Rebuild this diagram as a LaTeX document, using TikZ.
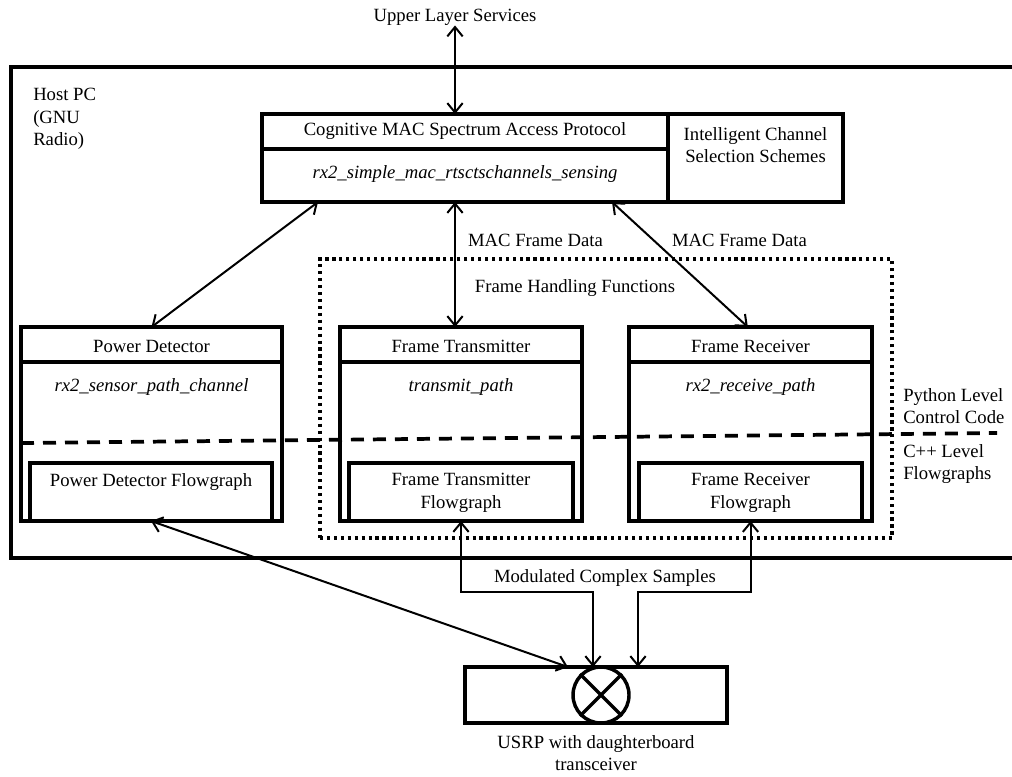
\documentclass[tikz,border=0pt]{standalone}
\usepackage{fontspec}
\setmainfont{Liberation Serif}
\usetikzlibrary{arrows.meta,fit,calc}
\begin{document}
\begin{tikzpicture}[x=0.75pt,y=-0.75pt,
  font=\fontsize{14}{16.8}\selectfont,
  >={Straight Barb[length=7pt,width=11.5pt]},
  box/.style={draw, rectangle, line width=2.6pt, inner sep=0pt, outer sep=0pt},
  divider/.style={line width=2.6pt},
  txt/.style={inner sep=0pt, align=center},
  conn/.style={<->, line width=1.5pt},
  levelline/.style={line width=2.8pt, dash pattern=on 9.75pt off 6.75pt},
  groupbox/.style={draw, rectangle, line width=2.4pt, inner sep=0pt, outer sep=0pt,
    dash pattern=on 2.4pt off 2.8pt}]
\useasboundingbox (0,0) rectangle (1012,776);

% host computer frame (runs past the right border)
\begin{scope}
  \clip (0,0) rectangle (1012,776);
  \node[box, line width=3pt, fit={(11,67) (1040,558)}] (host) {};
\end{scope}
\node[txt, anchor=north west, align=left] (hostlbl) at (33,88) {Host PC\\(GNU\\Radio)};

% upper layer
\node[txt] (uls) at (455,17) {Upper Layer Services};

% MAC protocol and channel selection
\node[box, fit={(262,114) (668,202)}] (mac) {};
\draw[divider] ([yshift=-26.25pt]mac.north west) -- ([yshift=-26.25pt]mac.north east);
\node[txt] (mact) at (465,131) {Cognitive MAC Spectrum Access Protocol};
\node[txt] (macs) at (465,174) {\itshape rx2\_simple\_mac\_rtsctschannels\_sensing};
\node[box, fit={(668,114) (843,202)}] (ics) {};
\node[txt] (icst) at (755.5,145) {Intelligent Channel\\Selection Schemes};

% frame handling group
\node[groupbox, fit={(320,259) (892,538)}] (fhf) {};
\node[txt] (fhft) at (575,288) {Frame Handling Functions};

% power detector
\node[box, fit={(21,327) (282,521)}] (pd) {};
\draw[divider] ([yshift=-26.25pt]pd.north west) -- ([yshift=-26.25pt]pd.north east);
\node[txt] (pdt) at (151.5,346) {Power Detector};
\node[txt] (pds) at (151.5,387) {\itshape rx2\_sensor\_path\_channel};
\node[box, fit={(30,463) (272,521)}] (pdfg) {};
\node[txt] (pdfgt) at (151,482) {Power Detector Flowgraph};

% frame transmitter
\node[box, fit={(340,327) (582,521)}] (tx) {};
\draw[divider] ([yshift=-26.25pt]tx.north west) -- ([yshift=-26.25pt]tx.north east);
\node[txt] (txt1) at (461,346) {Frame Transmitter};
\node[txt] (txs) at (461,387) {\itshape transmit\_path};
\node[box, fit={(349,463) (573,521)}] (txfg) {};
\node[txt] (txfgt) at (461,493) {Frame Transmitter\\Flowgraph};

% frame receiver
\node[box, fit={(629,327) (872,521)}] (rx) {};
\draw[divider] ([yshift=-26.25pt]rx.north west) -- ([yshift=-26.25pt]rx.north east);
\node[txt] (rxt) at (750.5,346) {Frame Receiver};
\node[txt] (rxs) at (750.5,387) {\itshape rx2\_receive\_path};
\node[box, fit={(639,463) (862,521)}] (rxfg) {};
\node[txt] (rxfgt) at (750.5,493) {Frame Receiver\\Flowgraph};

% boundary between Python and C++ levels
\coordinate (lvlend) at (997,433);
\draw[levelline] ([yshift=-87pt]pd.north west) -- (lvlend);
\node[txt, anchor=west, align=left] (pylvl) at (903,406) {Python Level\\Control Code};
\node[txt, anchor=west, align=left] (cpplvl) at (903,464) {C++ Level\\Flowgraphs};

% USRP hardware
\node[box, fit={(465,667) (727,723)}] (usrp) {};
\node[draw, circle, line width=2.6pt, minimum size=42pt, inner sep=0pt] (mix) at (601,695) {};
\draw[line width=2.6pt] (mix.north west) -- (mix.south east);
\draw[line width=2.6pt] (mix.north east) -- (mix.south west);
\node[txt] (usrpt) at (596,753) {USRP with daughterboard\\transceiver};

% connectors
\draw[conn] (uls.south) -- (uls.south |- mac.north);
\draw[conn] ([xshift=42pt]mac.south west) -- (pd.north);
\draw[conn] ([xshift=-7.5pt]mac.south) -- ([xshift=-4.5pt]tx.north);
\draw[conn] ([xshift=-42pt]mac.south east) -- ([xshift=-2pt]rx.north);
\node[txt] (mfd1) at (535.5,240) {MAC Frame Data};
\node[txt] (mfd2) at (739.5,240) {MAC Frame Data};

\draw[conn] (pdfg.south) -- ([xshift=77.25pt]usrp.north west);
\draw[conn] (txfg.south) -- ++(0,71) -| ([xshift=96pt]usrp.north west);
\draw[conn] (rxfg.south) -- ++(0,71) -| ([xshift=129.75pt]usrp.north west);
\node[txt] (mcs) at (605,578) {Modulated Complex Samples};
\end{tikzpicture}
\end{document}
